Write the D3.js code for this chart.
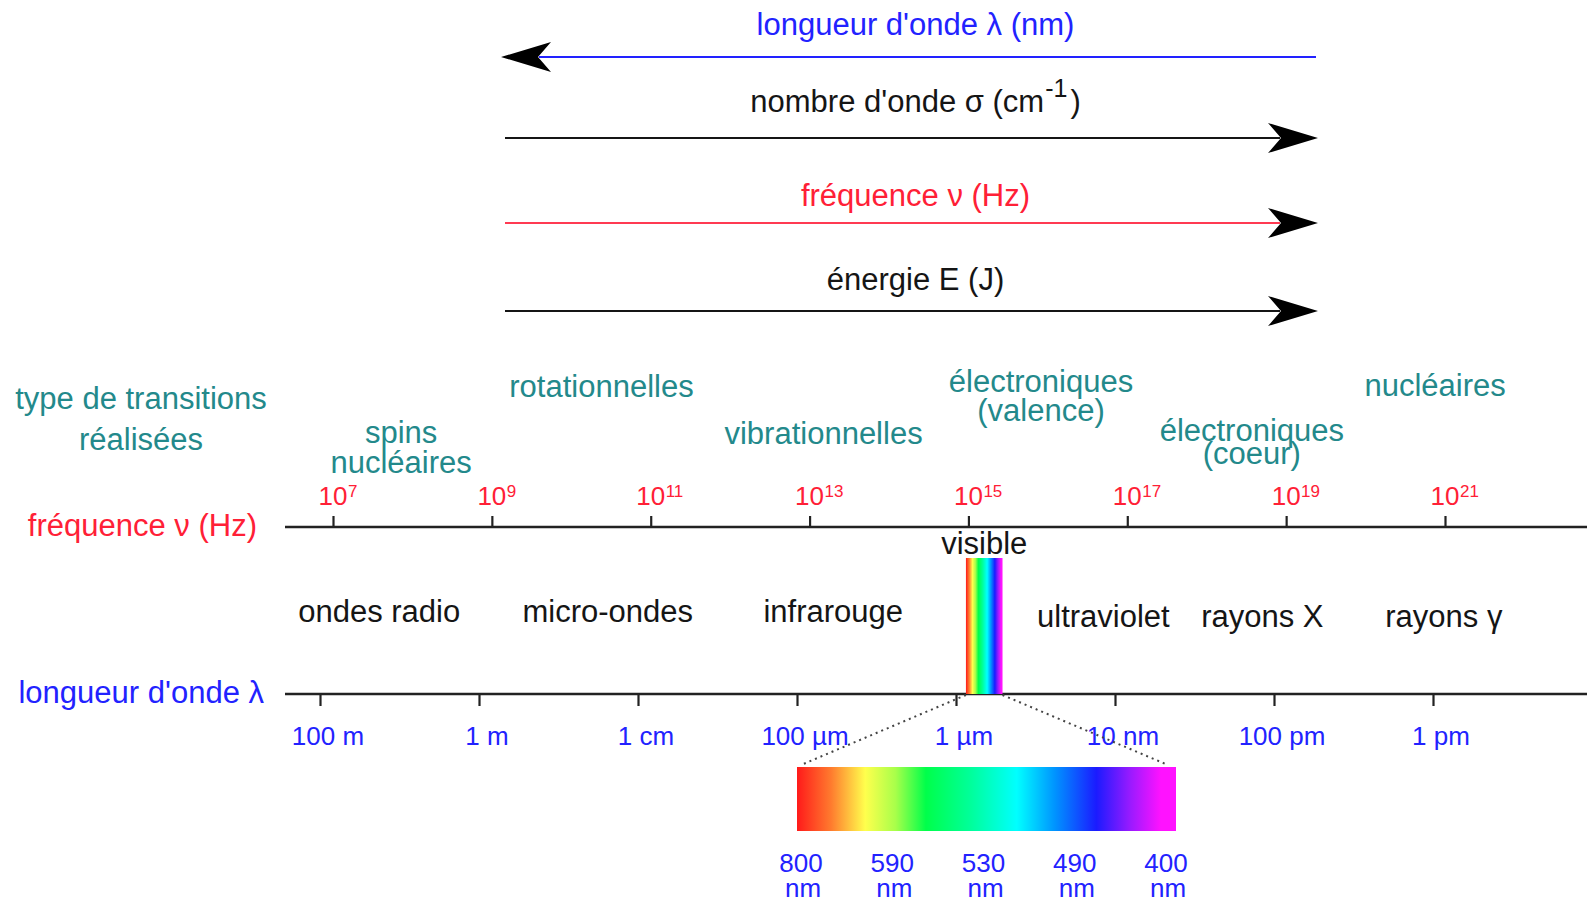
<!DOCTYPE html>
<html>
<head>
<meta charset="utf-8">
<script src="https://cdn.jsdelivr.net/npm/d3@7"></script>
<style>
  html, body { margin: 0; padding: 0; background: #fff; }
  svg { display: block; }
  text { font-family: "Liberation Sans", Arial, "DejaVu Sans", sans-serif; }
</style>
</head>
<body>
<svg id="chart" width="1587" height="902"></svg>
<script>
// ---- data -------------------------------------------------------------
// Quantities drawn as arrows above the spectrum (+1: grows to the right)
const quantityNames = ["longueur d'onde λ (nm)", "nombre d'onde σ (cm^{-1})", "fréquence ν (Hz)", "énergie E (J)"];
const quantityDirection = [-1, 1, 1, 1];

// Frequency axis ticks (Hz, powers of ten)
const freqTicks = [1e7, 1e9, 1e11, 1e13, 1e15, 1e17, 1e19, 1e21];
const freqTickExponents = ["7", "9", "11", "13", "15", "17", "19", "21"];

// Wavelength axis ticks (m) and their labels
const waveTicks = [1e2, 1, 1e-2, 1e-4, 1e-6, 1e-8, 1e-10, 1e-12];
const waveTickLabels = ["100 m", "1 m", "1 cm", "100 µm", "1 µm", "10 nm", "100 pm", "1 pm"];

// Spectral domains, placed at a representative wavelength (m)
const regionNames = ["ondes radio", "micro-ondes", "infrarouge", "ultraviolet", "rayons X", "rayons γ"];
const regionWavelengths = [18, 2.4e-2, 3.5e-5, 1.4e-8, 1.4e-10, 7.3e-13];

// Transitions involved, placed at a representative frequency (Hz)
const transitionNames = [["spins", "nucléaires"], ["rotationnelles"], ["vibrationnelles"],
                         ["électroniques", "(valence)"], ["électroniques", "(coeur)"], ["nucléaires"]];
const transitionFrequencies = [7.2e7, 2.4e10, 1.5e13, 8.2e15, 3.7e18, 7.5e20];

// Visible band as drawn on the wavelength axis (m)
const visibleBand = [7.5e-7, 2.6e-7];
// Wavelength labels under the enlarged visible spectrum (nm)
const visibleLabels = ["800", "590", "530", "490", "400"];

// ---- layout / style ---------------------------------------------------
const W = 1587;
const BLUE = "#2222ff", RED = "#ff2036", TEAL = "#23898b", INK = "#151515";
const FONT_BIG = 31, FONT_TICK = 26, FONT_SUP = 17;

const svg = d3.select("#chart");

// spectrum gradient (red → magenta)
const defs = svg.append("defs");
const grad = defs.append("linearGradient").attr("id", "spectrum")
  .attr("x1", "0%").attr("x2", "100%").attr("y1", "0%").attr("y2", "0%");
[[0, "#ff1a1a"], [0.09, "#ff7b2e"], [0.18, "#ffff4d"], [0.26, "#a8ff4a"], [0.34, "#00ff4a"],
 [0.46, "#00ff9c"], [0.58, "#00ffff"], [0.68, "#0094ff"], [0.79, "#1b1bff"], [0.88, "#9a1aff"],
 [0.96, "#ff12ff"], [1, "#ff12ff"]]
  .forEach(([o, c]) => grad.append("stop").attr("offset", o).attr("stop-color", c));

// scales along the spectrum
const freqScale = d3.scaleLog().domain(d3.extent(freqTicks)).range([333, 1445]);
const waveScale = d3.scaleLog().domain([d3.max(waveTicks), d3.min(waveTicks)]).range([320, 1433]);

// text with ^{...} superscripts
function richText(sel, str, supSize, rise) {
  const parts = str.split(/\^\{([^}]*)\}/);
  let shift = 0;
  parts.forEach((p, i) => {
    if (!p) return;
    const t = sel.append("tspan").text(p);
    if (i % 2 === 1) {
      t.attr("dy", -rise - shift).attr("dx", 1).attr("font-size", supSize);
      shift = -rise;
    } else {
      t.attr("dy", -shift).attr("dx", shift ? 3 : 0);
      shift = 0;
    }
  });
  return sel;
}

// ---- arrows for the physical quantities -------------------------------
const arrowX = [505, 1318];
const arrowRowY = [57, 138, 223, 311];
const labelRowY = [35, 112, 206, 290];
const quantityColor = [BLUE, INK, RED, INK];
const lineColor = [BLUE, INK, "#ff3a52", INK];

function headPath(tipX, y, dir) {
  const p = d3.path();
  p.moveTo(tipX, y);
  p.lineTo(tipX - dir * 50, y - 15);
  p.lineTo(tipX - dir * 37, y);
  p.lineTo(tipX - dir * 50, y + 15);
  p.closePath();
  return p.toString();
}

quantityNames.forEach((name, i) => {
  const y = arrowRowY[i], dir = quantityDirection[i];
  const g = svg.append("g");
  const tip = dir > 0 ? arrowX[1] : arrowX[0] - 4;
  const x1 = dir > 0 ? arrowX[0] : tip + 38;
  const x2 = dir > 0 ? tip - 38 : arrowX[1] - 2;
  g.append("line").attr("x1", x1).attr("x2", x2).attr("y1", y).attr("y2", y)
    .attr("stroke", lineColor[i]).attr("stroke-width", 2.2);
  g.append("path").attr("d", headPath(tip, y, dir)).attr("fill", "#000");
  const t = g.append("text").attr("x", (arrowX[0] + arrowX[1]) / 2 + 4).attr("y", labelRowY[i])
    .attr("text-anchor", "middle").attr("font-size", FONT_BIG).attr("fill", quantityColor[i]);
  richText(t, name, 25, 15);
});

// ---- row titles --------------------------------------------------------
svg.append("text").attr("x", 141).attr("y", 409).attr("text-anchor", "middle")
  .attr("font-size", FONT_BIG).attr("fill", TEAL).text("type de transitions");
svg.append("text").attr("x", 141).attr("y", 450).attr("text-anchor", "middle")
  .attr("font-size", FONT_BIG).attr("fill", TEAL).text("réalisées");
svg.append("text").attr("x", 257).attr("y", 536).attr("text-anchor", "end")
  .attr("font-size", FONT_BIG).attr("fill", RED).text("fréquence ν (Hz)");
svg.append("text").attr("x", 264).attr("y", 703).attr("text-anchor", "end")
  .attr("font-size", FONT_BIG).attr("fill", BLUE).text("longueur d'onde λ");

// ---- transition labels ------------------------------------------------
const transitionBaseline = [443, 397, 444, 392, 441, 396];
const transitionLineGap = [30, 0, 0, 29, 23, 0];
transitionNames.forEach((lines, i) => {
  const x = freqScale(transitionFrequencies[i]);
  lines.forEach((line, j) => {
    svg.append("text").attr("x", x).attr("y", transitionBaseline[i] + j * transitionLineGap[i])
      .attr("text-anchor", "middle").attr("font-size", FONT_BIG).attr("fill", TEAL).text(line);
  });
});

// ---- frequency axis ---------------------------------------------------
const freqAxisY = 527, waveAxisY = 694;
svg.append("line").attr("x1", 285).attr("x2", W).attr("y1", freqAxisY).attr("y2", freqAxisY)
  .attr("stroke", "#222").attr("stroke-width", 2.4);
const fAxis = svg.append("g").attr("transform", `translate(0,${freqAxisY})`)
  .call(d3.axisTop(freqScale).tickValues(freqTicks).tickSize(11).tickFormat(""));
fAxis.select(".domain").remove();
fAxis.selectAll(".tick line").attr("stroke", "#222").attr("stroke-width", 2.2);

freqTicks.forEach((v, i) => {
  const x = freqScale(v);
  const base = svg.append("text").attr("x", x).attr("y", 505).attr("text-anchor", "middle")
    .attr("font-size", FONT_TICK).attr("fill", RED).text("10");
  const w = base.node().getBBox().width;
  svg.append("text").attr("x", x + w / 2 + 0.5).attr("y", 497).attr("text-anchor", "start")
    .attr("font-size", FONT_SUP).attr("fill", RED).text(freqTickExponents[i]);
});

// ---- wavelength axis --------------------------------------------------
svg.append("line").attr("x1", 285).attr("x2", W).attr("y1", waveAxisY).attr("y2", waveAxisY)
  .attr("stroke", "#222").attr("stroke-width", 2.4);
const wAxis = svg.append("g").attr("transform", `translate(0,${waveAxisY})`)
  .call(d3.axisBottom(waveScale).tickValues(waveTicks).tickSize(12).tickFormat(""));
wAxis.select(".domain").remove();
wAxis.selectAll(".tick line").attr("stroke", "#222").attr("stroke-width", 2.2);

waveTicks.forEach((v, i) => {
  svg.append("text").attr("x", waveScale(v) + 8).attr("y", 745).attr("text-anchor", "middle")
    .attr("font-size", FONT_TICK).attr("fill", BLUE).text(waveTickLabels[i]);
});

// ---- spectral domains -------------------------------------------------
regionNames.forEach((name, i) => {
  const shorter = regionWavelengths[i] < visibleBand[1];
  svg.append("text").attr("x", waveScale(regionWavelengths[i])).attr("y", shorter ? 627 : 622)
    .attr("text-anchor", "middle").attr("font-size", FONT_BIG).attr("fill", INK).text(name);
});

// visible band on the spectrum
const vx0 = waveScale(visibleBand[0]), vx1 = waveScale(visibleBand[1]);
svg.append("rect").attr("x", vx0).attr("y", 558).attr("width", vx1 - vx0).attr("height", waveAxisY - 558)
  .attr("fill", "url(#spectrum)");
svg.append("text").attr("x", (vx0 + vx1) / 2).attr("y", 554).attr("text-anchor", "middle")
  .attr("font-size", FONT_BIG).attr("fill", INK).text("visible");

// ---- enlarged visible spectrum ----------------------------------------
const inset = { x0: 797, x1: 1176, y0: 767, y1: 831 };
svg.append("line").attr("x1", vx0).attr("y1", waveAxisY + 1).attr("x2", inset.x0 + 4).attr("y2", inset.y0 - 2)
  .attr("stroke", "#444").attr("stroke-width", 2).attr("stroke-dasharray", "2,4");
svg.append("line").attr("x1", vx1).attr("y1", waveAxisY + 1).attr("x2", inset.x1 - 8).attr("y2", inset.y0 - 2)
  .attr("stroke", "#444").attr("stroke-width", 2).attr("stroke-dasharray", "2,4");
svg.append("rect").attr("x", inset.x0).attr("y", inset.y0)
  .attr("width", inset.x1 - inset.x0).attr("height", inset.y1 - inset.y0)
  .attr("fill", "url(#spectrum)");

const insetScale = d3.scalePoint().domain(visibleLabels).range([inset.x0 + 4, inset.x1 - 10]);
visibleLabels.forEach(lab => {
  const x = insetScale(lab);
  svg.append("text").attr("x", x).attr("y", 872).attr("text-anchor", "middle")
    .attr("font-size", FONT_TICK).attr("fill", BLUE).text(lab);
  svg.append("text").attr("x", x + 2).attr("y", 897).attr("text-anchor", "middle")
    .attr("font-size", FONT_TICK).attr("fill", BLUE).text("nm");
});
</script>
</body>
</html>
